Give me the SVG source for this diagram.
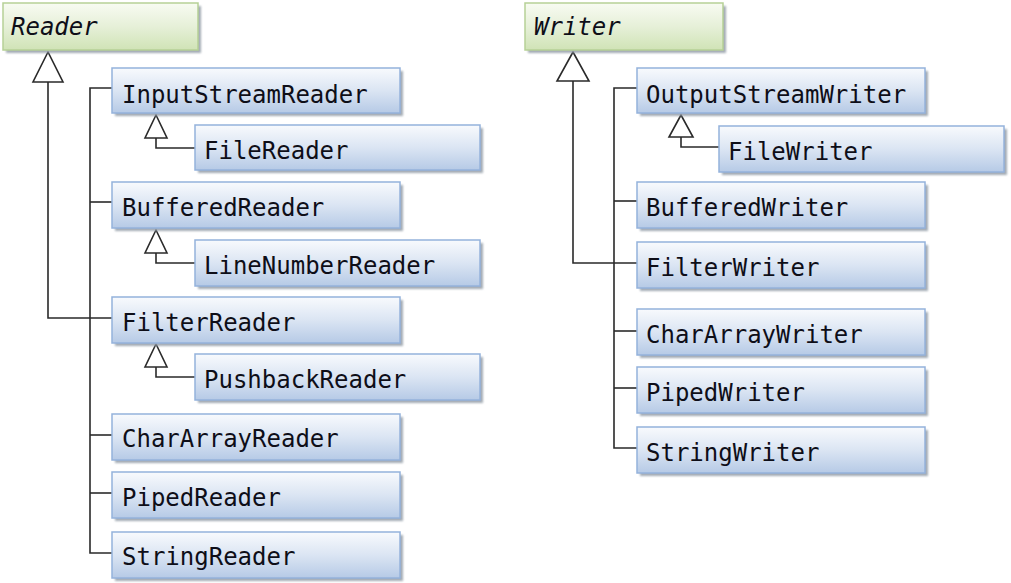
<svg xmlns="http://www.w3.org/2000/svg" width="1011" height="583" viewBox="0 0 1011 583">
<defs>
<linearGradient id="gb" x1="0" y1="0" x2="0" y2="1">
<stop offset="0" stop-color="#f8fafd"/>
<stop offset="0.5" stop-color="#dbe5f3"/>
<stop offset="1" stop-color="#b6cae6"/>
</linearGradient>
<linearGradient id="gg" x1="0" y1="0" x2="0" y2="1">
<stop offset="0" stop-color="#f8fbf2"/>
<stop offset="0.5" stop-color="#e6f0d8"/>
<stop offset="1" stop-color="#d0e3b6"/>
</linearGradient>
<filter id="sh" x="-5%" y="-10%" width="115%" height="130%">
<feGaussianBlur stdDeviation="0.8"/>
</filter>
</defs>
<style>
.sh{fill:#939ca7;opacity:0.85;filter:url(#sh)}
.b{fill:url(#gb);stroke:#94b2db;stroke-width:1.5}
.g{fill:url(#gg);stroke:#b6d196;stroke-width:1.5}
.t{font-family:"DejaVu Sans Mono","Liberation Mono",monospace;font-size:24px;fill:#0e0e18}
.i{font-style:italic}
.c{fill:none;stroke:#2a2a2a;stroke-width:1.6}
.tri{fill:#ffffff;stroke:#2a2a2a;stroke-width:1.6;stroke-linejoin:miter}
</style>
<g id="connectors">
<!-- Reader -->
<polyline class="c" points="48,82 48,318 112,318"/>
<polyline class="c" points="112,88 90,88 90,553 112,553"/>
<line class="c" x1="90" y1="202" x2="112" y2="202"/>
<line class="c" x1="90" y1="435" x2="112" y2="435"/>
<line class="c" x1="90" y1="493" x2="112" y2="493"/>
<polygon class="tri" points="48,52 33,82 63,82"/>
<polyline class="c" points="156,138 156,148 195,148"/>
<polygon class="tri" points="156,115 145,138 167,138"/>
<polyline class="c" points="156,253 156,263 195,263"/>
<polygon class="tri" points="156,230 145,253 167,253"/>
<polyline class="c" points="156,367 156,377 195,377"/>
<polygon class="tri" points="156,344 145,367 167,367"/>
<!-- Writer -->
<polyline class="c" points="573,81 573,263 637,263"/>
<polyline class="c" points="637,88 614,88 614,448 637,448"/>
<line class="c" x1="614" y1="201" x2="637" y2="201"/>
<line class="c" x1="614" y1="331" x2="637" y2="331"/>
<line class="c" x1="614" y1="388" x2="637" y2="388"/>
<polygon class="tri" points="573,52 557,81 589,81"/>
<polyline class="c" points="681,137 681,147 719,147"/>
<polygon class="tri" points="681,115 669,137 693,137"/>
</g>
<g id="Reader"><rect class="sh" x="6" y="6" width="195" height="47"/><rect class="g" x="3" y="3" width="195" height="47"/><text class="t i" x="11" y="35">Reader</text></g>
<g id="InputStreamReader"><rect class="sh" x="115" y="71" width="288" height="45"/><rect class="b" x="112" y="68" width="288" height="45"/><text class="t" x="122" y="103">InputStreamReader</text></g>
<g id="FileReader"><rect class="sh" x="198" y="128" width="285" height="45"/><rect class="b" x="195" y="125" width="285" height="45"/><text class="t" x="204" y="159">FileReader</text></g>
<g id="BufferedReader"><rect class="sh" x="115" y="185" width="288" height="46"/><rect class="b" x="112" y="182" width="288" height="46"/><text class="t" x="122" y="216">BufferedReader</text></g>
<g id="LineNumberReader"><rect class="sh" x="198" y="243" width="285" height="46"/><rect class="b" x="195" y="240" width="285" height="46"/><text class="t" x="204" y="274">LineNumberReader</text></g>
<g id="FilterReader"><rect class="sh" x="115" y="300" width="288" height="46"/><rect class="b" x="112" y="297" width="288" height="46"/><text class="t" x="122" y="331">FilterReader</text></g>
<g id="PushbackReader"><rect class="sh" x="198" y="357" width="285" height="46"/><rect class="b" x="195" y="354" width="285" height="46"/><text class="t" x="204" y="388">PushbackReader</text></g>
<g id="CharArrayReader"><rect class="sh" x="115" y="417" width="288" height="46"/><rect class="b" x="112" y="414" width="288" height="46"/><text class="t" x="122" y="447">CharArrayReader</text></g>
<g id="PipedReader"><rect class="sh" x="115" y="475" width="288" height="46"/><rect class="b" x="112" y="472" width="288" height="46"/><text class="t" x="122" y="506">PipedReader</text></g>
<g id="StringReader"><rect class="sh" x="115" y="535" width="288" height="46"/><rect class="b" x="112" y="532" width="288" height="46"/><text class="t" x="122" y="565">StringReader</text></g>
<g id="Writer"><rect class="sh" x="528" y="6" width="198" height="47"/><rect class="g" x="525" y="3" width="198" height="47"/><text class="t i" x="534" y="35">Writer</text></g>
<g id="OutputStreamWriter"><rect class="sh" x="640" y="71" width="288" height="45"/><rect class="b" x="637" y="68" width="288" height="45"/><text class="t" x="646" y="103">OutputStreamWriter</text></g>
<g id="FileWriter"><rect class="sh" x="722" y="129" width="285" height="46"/><rect class="b" x="719" y="126" width="285" height="46"/><text class="t" x="728" y="160">FileWriter</text></g>
<g id="BufferedWriter"><rect class="sh" x="640" y="185" width="288" height="46"/><rect class="b" x="637" y="182" width="288" height="46"/><text class="t" x="646" y="216">BufferedWriter</text></g>
<g id="FilterWriter"><rect class="sh" x="640" y="245" width="288" height="46"/><rect class="b" x="637" y="242" width="288" height="46"/><text class="t" x="646" y="276">FilterWriter</text></g>
<g id="CharArrayWriter"><rect class="sh" x="640" y="312" width="288" height="46"/><rect class="b" x="637" y="309" width="288" height="46"/><text class="t" x="646" y="343">CharArrayWriter</text></g>
<g id="PipedWriter"><rect class="sh" x="640" y="370" width="288" height="46"/><rect class="b" x="637" y="367" width="288" height="46"/><text class="t" x="646" y="401">PipedWriter</text></g>
<g id="StringWriter"><rect class="sh" x="640" y="430" width="288" height="46"/><rect class="b" x="637" y="427" width="288" height="46"/><text class="t" x="646" y="461">StringWriter</text></g>
</svg>
